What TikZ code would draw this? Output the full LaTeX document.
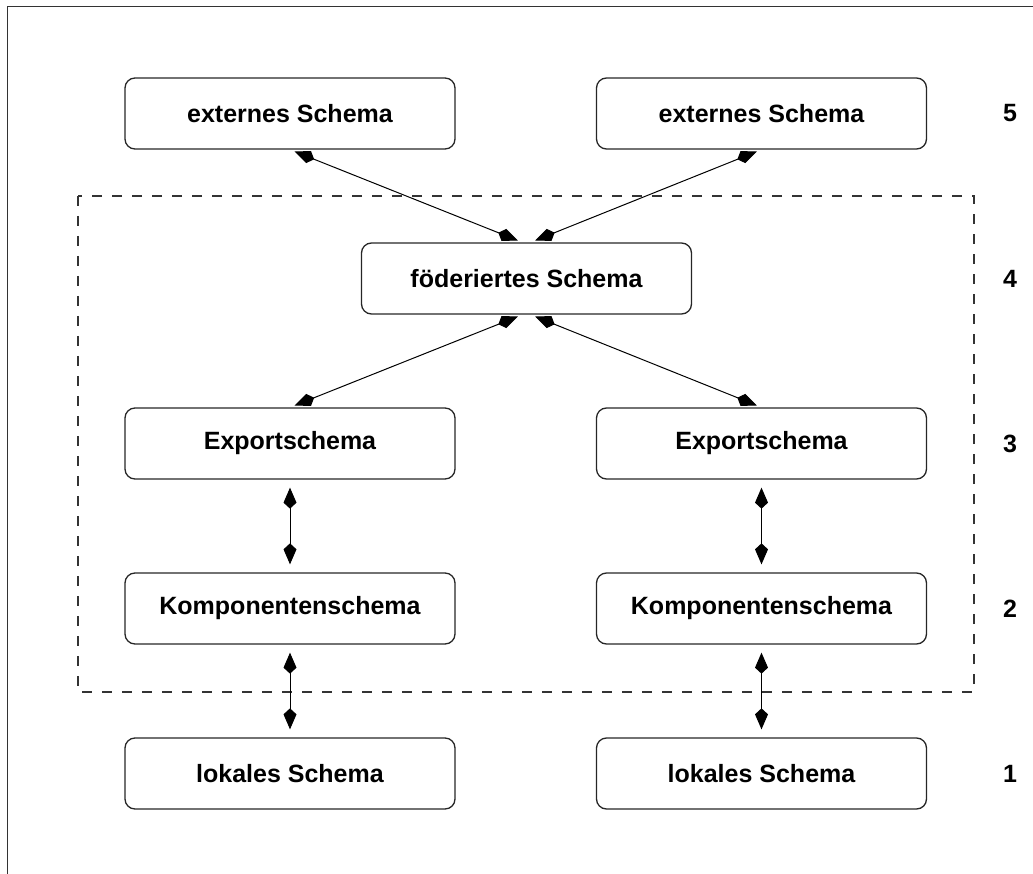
\documentclass[tikz,border=0pt]{standalone}
\usepackage{fontspec}
\setmainfont{Liberation Sans}
\usetikzlibrary{arrows.meta}
\begin{document}
\begin{tikzpicture}[x=1pt,y=-1pt,
  schemabox/.style={draw=black!85, line width=1.3pt, rounded corners=10pt,
    minimum width=330pt, minimum height=71pt, inner sep=0pt,
    font=\fontsize{25}{30}\selectfont\bfseries},
  levelnum/.style={font=\fontsize{25}{30}\selectfont\bfseries, inner sep=0pt},
  link/.style={line width=1pt, {Kite[length=21pt,width=13pt,inset=6pt]}-{Kite[length=21pt,width=13pt,inset=6pt]}},
  vlink/.style={link, shorten <=8pt, shorten >=8pt},
  dlink/.style={link, shorten <=5pt, shorten >=5pt}]
  \useasboundingbox (0,0) rectangle (1033,874);
  % outer frame (left and top edges)
  \draw[line width=1pt, black!80] (7,874) -- (7,7) -- (1033,7);
  % federation boundary
  \draw[dash pattern=on 10pt off 10pt, line width=1.1pt, black!80] (78,196) rectangle (974,692);

  % schema levels
  \node[schemabox] (ext1) at (290,113.5) {externes Schema};
  \node[schemabox] (ext2) at (761.5,113.5) {externes Schema};
  \node[schemabox] (fed)  at (526.5,278.5) {föderiertes Schema};
  \node[schemabox] (exp1) at (290,443.5) {Exportschema};
  \node[schemabox] (exp2) at (761.5,443.5) {Exportschema};
  \node[schemabox] (kom1) at (290,608.5) {Komponentenschema};
  \node[schemabox] (kom2) at (761.5,608.5) {Komponentenschema};
  \node[schemabox] (lok1) at (290,773.5) {lokales Schema};
  \node[schemabox] (lok2) at (761.5,773.5) {lokales Schema};

  % level numbers
  \node[levelnum] (n5) at (1010,113.5) {5};
  \node[levelnum] (n4) at (1010,278.5) {4};
  \node[levelnum] (n3) at (1010,443.5) {3};
  \node[levelnum] (n2) at (1010,608.5) {2};
  \node[levelnum] (n1) at (1010,773.5) {1};

  % mappings between levels
  \draw[dlink] (ext1.south) -- ([xshift=-4pt]fed.north);
  \draw[dlink] (ext2.south) -- ([xshift=4pt]fed.north);
  \draw[dlink] ([xshift=-4pt]fed.south) -- (exp1.north);
  \draw[dlink] ([xshift=4pt]fed.south) -- (exp2.north);
  \draw[vlink] (exp1.south) -- (kom1.north);
  \draw[vlink] (exp2.south) -- (kom2.north);
  \draw[vlink] (kom1.south) -- (lok1.north);
  \draw[vlink] (kom2.south) -- (lok2.north);
\end{tikzpicture}
\end{document}
